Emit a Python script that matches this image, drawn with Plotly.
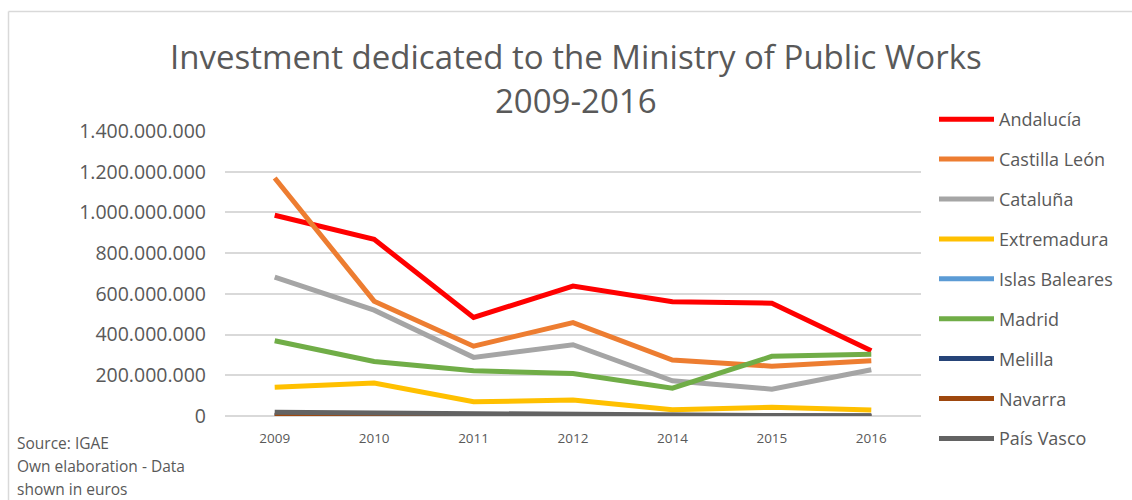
import plotly.graph_objects as go

# Years on the category axis (2013 is not reported)
years = ["2009", "2010", "2011", "2012", "2014", "2015", "2016"]

# Investment per region, in euros
andalucia = [986e6, 868e6, 484e6, 638e6, 561e6, 554e6, 320e6]
castilla_leon = [1169e6, 564e6, 343e6, 459e6, 275e6, 245e6, 271e6]
cataluna = [682e6, 520e6, 288e6, 350e6, 173e6, 132e6, 227e6]
extremadura = [141e6, 162e6, 70e6, 78e6, 31e6, 43e6, 29e6]
islas_baleares = [1e6, 1e6, 1e6, 1e6, 0.5e6, 0.5e6, 0.5e6]
madrid = [370e6, 268e6, 222e6, 209e6, 137e6, 293e6, 303e6]
melilla = [0.5e6, 0.5e6, 0.5e6, 0.5e6, 0.3e6, 0.3e6, 0.3e6]
navarra = [4e6, 3e6, 2e6, 2e6, 1e6, 1e6, 1e6]
pais_vasco = [18e6, 14e6, 10e6, 7e6, 2e6, 2e6, 1e6]

y_ticks = [0, 200e6, 400e6, 600e6, 800e6, 1000e6, 1200e6, 1400e6]

series = [
    ("Andalucía", andalucia, "#FF0000"),
    ("Castilla León", castilla_leon, "#ED7D31"),
    ("Cataluña", cataluna, "#A5A5A5"),
    ("Extremadura", extremadura, "#FFC000"),
    ("Islas Baleares", islas_baleares, "#5B9BD5"),
    ("Madrid", madrid, "#70AD47"),
    ("Melilla", melilla, "#264478"),
    ("Navarra", navarra, "#9E480E"),
    ("País Vasco", pais_vasco, "#636363"),
]

TEXT = "#595959"
GRID = "#D9D9D9"
FONT = "Open Sans"

fig = go.Figure()
for name, vals, color in series:
    fig.add_trace(go.Scatter(
        x=years, y=vals, name=name, mode="lines",
        line=dict(color=color, width=5),
        legendgroup=name,
    ))

# plot area in pixels: x 225..921, y 131..416
L, R, T, B = 225, 1132 - 921, 131, 500 - 416
PW, PH = 1132 - L - R, 500 - T - B


def px(x):
    return (x - L) / PW


def py(y):
    return (500 - B - y) / PH


annotations = [
    dict(text="Investment dedicated to the Ministry of Public Works", x=px(576), y=py(56)),
    dict(text="2009-2016", x=px(576), y=py(100)),
]
for a in annotations:
    a.update(xref="paper", yref="paper", xanchor="center", yanchor="middle",
             showarrow=False, font=dict(family=FONT, size=33, color=TEXT))

for txt, yy in [("Source: IGAE", 443), ("Own elaboration - Data", 466), ("shown in euros", 489)]:
    annotations.append(dict(text=txt, x=px(15), y=py(yy), xref="paper", yref="paper",
                            xanchor="left", yanchor="middle", showarrow=False,
                            font=dict(family=FONT, size=15.5, color=TEXT)))

# chart frame (top and left edges)
shapes = [
    dict(type="line", xref="paper", yref="paper", x0=px(8.5), x1=px(1140),
         y0=py(11.5), y1=py(11.5), line=dict(color=GRID, width=1.5)),
    dict(type="line", xref="paper", yref="paper", x0=px(8.5), x1=px(8.5),
         y0=py(11.5), y1=py(510), line=dict(color=GRID, width=1.5)),
]

fig.update_layout(
    width=1132, height=500,
    margin=dict(l=L, r=R, t=T, b=B, autoexpand=False),
    paper_bgcolor="white", plot_bgcolor="white",
    separators=",.",
    font=dict(family=FONT, color=TEXT),
    showlegend=True,
    legend=dict(
        xref="container", yref="container",
        x=934 / 1132, y=1 - 101 / 500, xanchor="left", yanchor="top",
        font=dict(family=FONT, size=18, color=TEXT),
        tracegroupgap=13.5, itemwidth=55, bgcolor="rgba(0,0,0,0)",
        maxheight=1,
    ),
    annotations=annotations,
    shapes=shapes,
    xaxis=dict(
        type="category", categoryorder="array", categoryarray=years,
        range=[-0.5, len(years) - 0.5],
        showgrid=False, showline=False, zeroline=False, ticks="",
        tickfont=dict(family=FONT, size=13.5, color=TEXT),
        ticklabelstandoff=12,
    ),
    yaxis=dict(
        range=[0, 1400e6], tickvals=y_ticks, tickformat=",d",
        showgrid=True, gridcolor=GRID, gridwidth=1.5,
        zeroline=True, zerolinecolor=GRID, zerolinewidth=1.5,
        showline=False, ticks="",
        tickfont=dict(family=FONT, size=19.5, color=TEXT),
        ticklabelstandoff=18,
    ),
)

fig.write_html("out.html")
